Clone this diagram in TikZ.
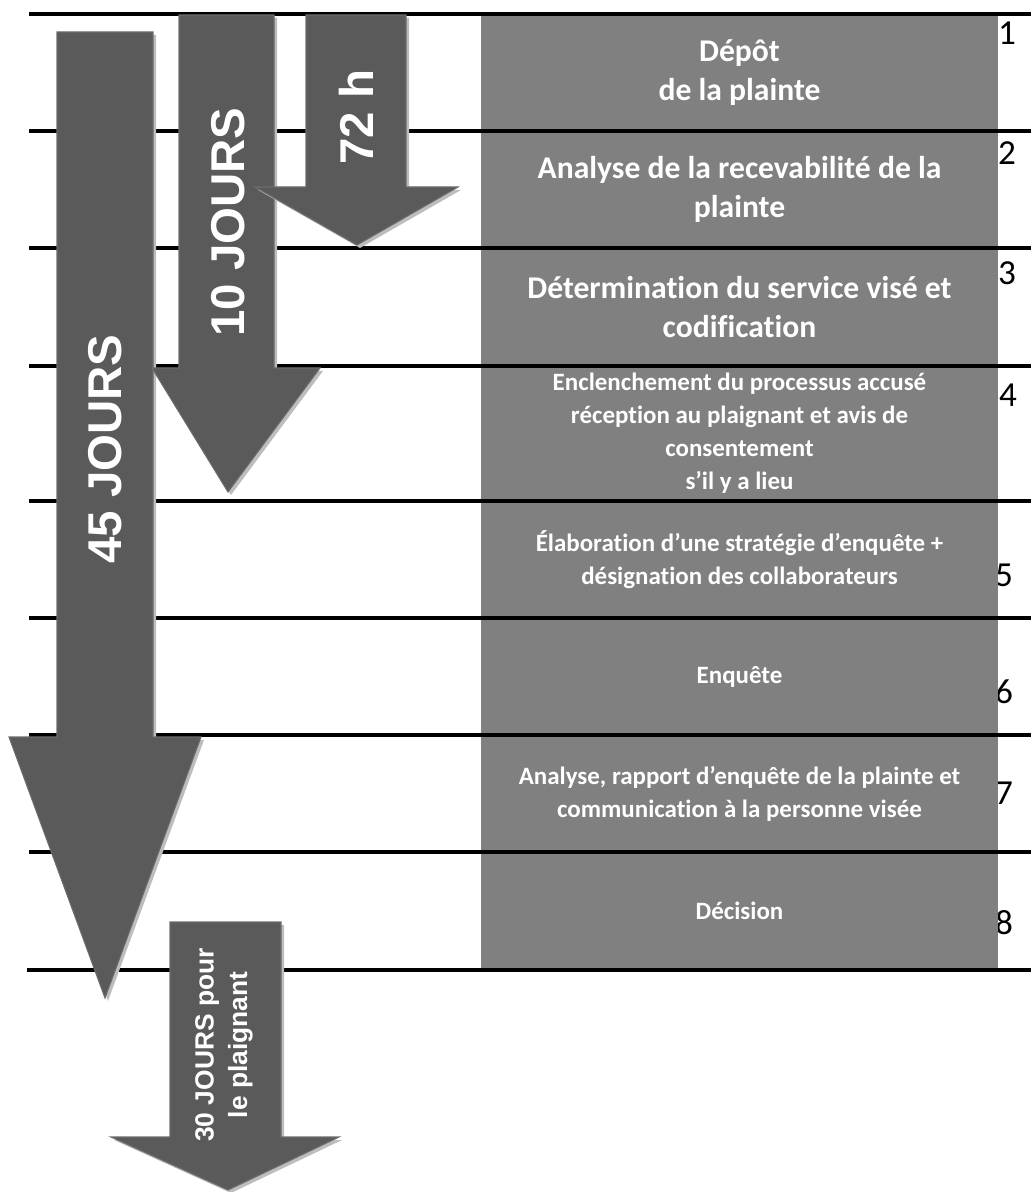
\documentclass[tikz,border=0pt]{standalone}
\usepackage{fontspec}
\setmainfont{Carlito}[Ligatures=NoCommon]
\newfontfamily\arialfont{Liberation Sans}
\usetikzlibrary{shadows}
\definecolor{etapegris}{HTML}{808080}
\definecolor{flechegris}{HTML}{5A5A5A}
\definecolor{flechebord}{HTML}{6C6C6C}
\definecolor{ombre}{HTML}{BDBDBD}

\begin{document}
\begin{tikzpicture}[
    x=0.02cm, y=-0.02cm,
    ligne/.style={line width=2.3pt, black},
    etape/.style={rectangle, fill=etapegris, text=white, minimum width=10.34cm, minimum height=2.34cm, align=center, inner sep=0pt, font=\bfseries\fontsize{18}{22}\selectfont},
    petite/.style={font=\bfseries\fontsize{14.2}{18.8}\selectfont},
    numero/.style={inner sep=0pt, font=\fontsize{20}{24}\selectfont},
    fleche/.style={fill=flechegris, draw=flechebord, line width=0.6pt, drop shadow={shadow xshift=0.06cm, shadow yshift=-0.06cm, fill=ombre, opacity=1}},
    jours/.style={rotate=90, text=white, inner sep=0pt, align=center, font=\arialfont\bfseries\fontsize{27}{32}\selectfont}
]
\useasboundingbox (0,0) rectangle (1031,1192);

% step numbers (partly hidden by the boxes)
\foreach \n/\xx/\yy in {1/1007/33, 2/1007/153, 3/1007/273, 4/1008/395, 5/1004/575, 6/1004/692, 7/1004/793, 8/1004/923}
    \node[numero] (n\n) at (\xx,\yy) {\n};

% steps
\node[etape] (e1) at (739.5,72.5) {Dépôt\\de la plainte};
\node[etape] (e2) at (739.5,189.5) {Analyse de la recevabilité de la\\plainte};
\node[etape] (e3) at (739.5,307) {Détermination du service visé et\\codification};
\node[etape, petite, minimum height=2.7cm] (e4) at (739.5,433.5) {Enclenchement du processus accusé\\réception au plaignant et avis de\\consentement\\s’il y a lieu};
\node[etape, petite] (e5) at (739.5,559.5) {Élaboration d’une stratégie d’enquête +\\désignation des collaborateurs};
\node[etape, petite] (e6) at (739.5,676.5) {Enquête};
\node[etape, petite] (e7) at (739.5,793.5) {Analyse, rapport d’enquête de la plainte et\\communication à la personne visée};
\node[etape, petite] (e8) at (739.5,911) {Décision};

% rules between the steps
\foreach \yy in {14,131,248,366,501,618,735,852}
    \draw[ligne] (29,\yy) -- (1031,\yy);
\draw[ligne] (27,970) -- (1031,970);

% 45 jours
\draw[fleche] (57,32) -- (153,32) -- (153,737) -- (201,737) -- (105,998) -- (9,737) -- (57,737) -- cycle;
\node[jours] (t45) at (105,449) {45 JOURS};

% 10 jours
\draw[fleche] (179,15) -- (274,15) -- (274,368) -- (320,368) -- (228,492) -- (152,368) -- (179,368) -- cycle;
\node[jours] (t10) at (228,222) {10 JOURS};

% 72 h
\draw[fleche] (306,15) -- (406,15) -- (406,187) -- (458,187) -- (357,245) -- (255,187) -- (306,187) -- cycle;
\node[jours] (t72) at (356,117) {72 h};

% 30 jours pour le plaignant
\draw[fleche] (170,922) -- (281,922) -- (281,1137) -- (339,1137) -- (228,1190) -- (111,1137) -- (170,1137) -- cycle;
\node[jours, font=\arialfont\bfseries\fontsize{15}{19}\selectfont] (t30) at (224,1045) {30 JOURS pour\\le plaignant};
\end{tikzpicture}
\end{document}
